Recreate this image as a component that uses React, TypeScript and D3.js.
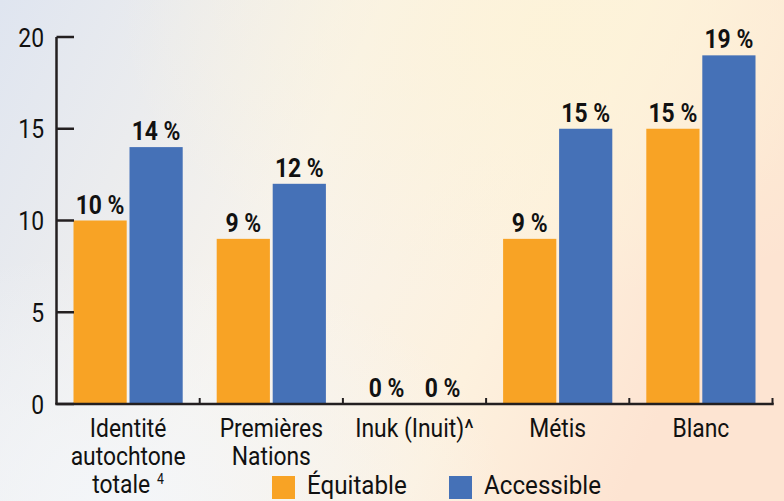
import React from "react";
import * as d3 from "d3";

const categories = ["Identité autochtone totale", "Premières Nations", "Inuk (Inuit)^", "Métis", "Blanc"];
const categoryLines = [["Identité", "autochtone", "totale"], ["Premières", "Nations"], ["Inuk (Inuit)^"], ["Métis"], ["Blanc"]];
const superscripts = ["4", "", "", "", ""];
const seriesNames = ["Équitable", "Accessible"];
const equitable = [10, 9, 0, 9, 15];
const accessible = [14, 12, 0, 15, 19];
const yTicks = [0, 5, 10, 15, 20];
const colors = ["#F8A325", "#4571B7"];

const W = 784, H = 501;
const FONT = "Roboto, 'Noto Sans', sans-serif";

export default function App() {
  const x = d3.scaleBand<string>().domain(categories).range([56.5, 772.5]).paddingInner(0).paddingOuter(0);
  const y = d3.scaleLinear().domain([0, 20]).range([404, 37]);
  const sub = d3.scaleBand<string>().domain(seriesNames).range([17, x.bandwidth() - 17]).paddingInner(0.05);
  const series = [equitable, accessible];
  const sx = 0.88;
  const fs = 26;
  return (
    <svg width={W} height={H} style={{ position: "absolute", left: 0, top: 0 }} fontFamily={FONT}>
      <defs>
        <linearGradient id="bg1" x1="0" y1="0" x2="1" y2="0.3">
          <stop offset="0" stopColor="#dfe5f0" />
          <stop offset="0.45" stopColor="#f7f3ec" />
          <stop offset="0.75" stopColor="#fdf1de" />
          <stop offset="1" stopColor="#fde4d2" />
        </linearGradient>
        <radialGradient id="bg2" cx="0.7" cy="0.05" r="0.55">
          <stop offset="0" stopColor="#fdf3d8" stopOpacity="0.9" />
          <stop offset="1" stopColor="#fdf3d8" stopOpacity="0" />
        </radialGradient>
        <radialGradient id="bg3" cx="0.15" cy="1" r="0.5">
          <stop offset="0" stopColor="#f3f6fa" stopOpacity="0.9" />
          <stop offset="1" stopColor="#f3f6fa" stopOpacity="0" />
        </radialGradient>
      </defs>
      <rect width={W} height={H} fill="url(#bg1)" />
      <rect width={W} height={H} fill="url(#bg2)" />
      <rect width={W} height={H} fill="url(#bg3)" />

      {/* bars */}
      {categories.map((c, i) =>
        series.map((s, j) => {
          const bx = (x(c) as number) + (sub(seriesNames[j]) as number);
          const bw = sub.bandwidth();
          return (
            <g key={c + j}>
              {s[i] > 0 && <rect x={bx} y={y(s[i])} width={bw} height={y(0) - y(s[i])} fill={colors[j]} />}
              <text
                transform={`translate(${bx + bw / 2},${y(s[i]) - 7}) scale(${sx},1)`}
                textAnchor="middle"
                fontSize={fs}
                fontWeight="bold"
                fill="#111"
              >
                {s[i]} %
              </text>
            </g>
          );
        })
      )}

      {/* y axis */}
      <line x1={56.5} x2={56.5} y1={y(20)} y2={y(0)} stroke="#231f20" strokeWidth={2.5} />
      {yTicks.map((t) => (
        <g key={t}>
          <line x1={56.5} x2={74} y1={y(t)} y2={y(t)} stroke="#231f20" strokeWidth={2.5} />
          <text transform={`translate(44,${y(t) + 9.5}) scale(${sx},1)`} textAnchor="end" fontSize={fs} fill="#111">
            {t}
          </text>
        </g>
      ))}
      {/* x axis */}
      <line x1={55.25} x2={773.75} y1={y(0)} y2={y(0)} stroke="#231f20" strokeWidth={2.5} />
      {categories.map((c) => {
        const xx = (x(c) as number) + x.bandwidth();
        return <line key={c} x1={xx} x2={xx} y1={y(0)} y2={y(0) - 6} stroke="#231f20" strokeWidth={2} />;
      })}
      {categories.map((c, i) => {
        const cx = (x(c) as number) + x.bandwidth() / 2;
        return (
          <text key={c} transform={`translate(${cx},0) scale(${sx},1)`} textAnchor="middle" fontSize={fs} fill="#111">
            {categoryLines[i].map((l, k) => (
              <tspan key={k} x={0} y={437 + k * 28}>
                {l}
                {k === categoryLines[i].length - 1 && superscripts[i] ? (
                  <tspan fontSize={14} dy={-9} dx={8}>{superscripts[i]}</tspan>
                ) : null}
              </tspan>
            ))}
          </text>
        );
      })}

      {/* legend */}
      {seriesNames.map((n, j) => {
        const lx = [272, 449][j];
        return (
          <g key={n}>
            <rect x={lx} y={476} width={23} height={23} fill={colors[j]} />
            <text transform={`translate(${lx + 35},494) scale(0.93,1)`} fontSize={fs} fill="#111">
              {n}
            </text>
          </g>
        );
      })}
    </svg>
  );
}
